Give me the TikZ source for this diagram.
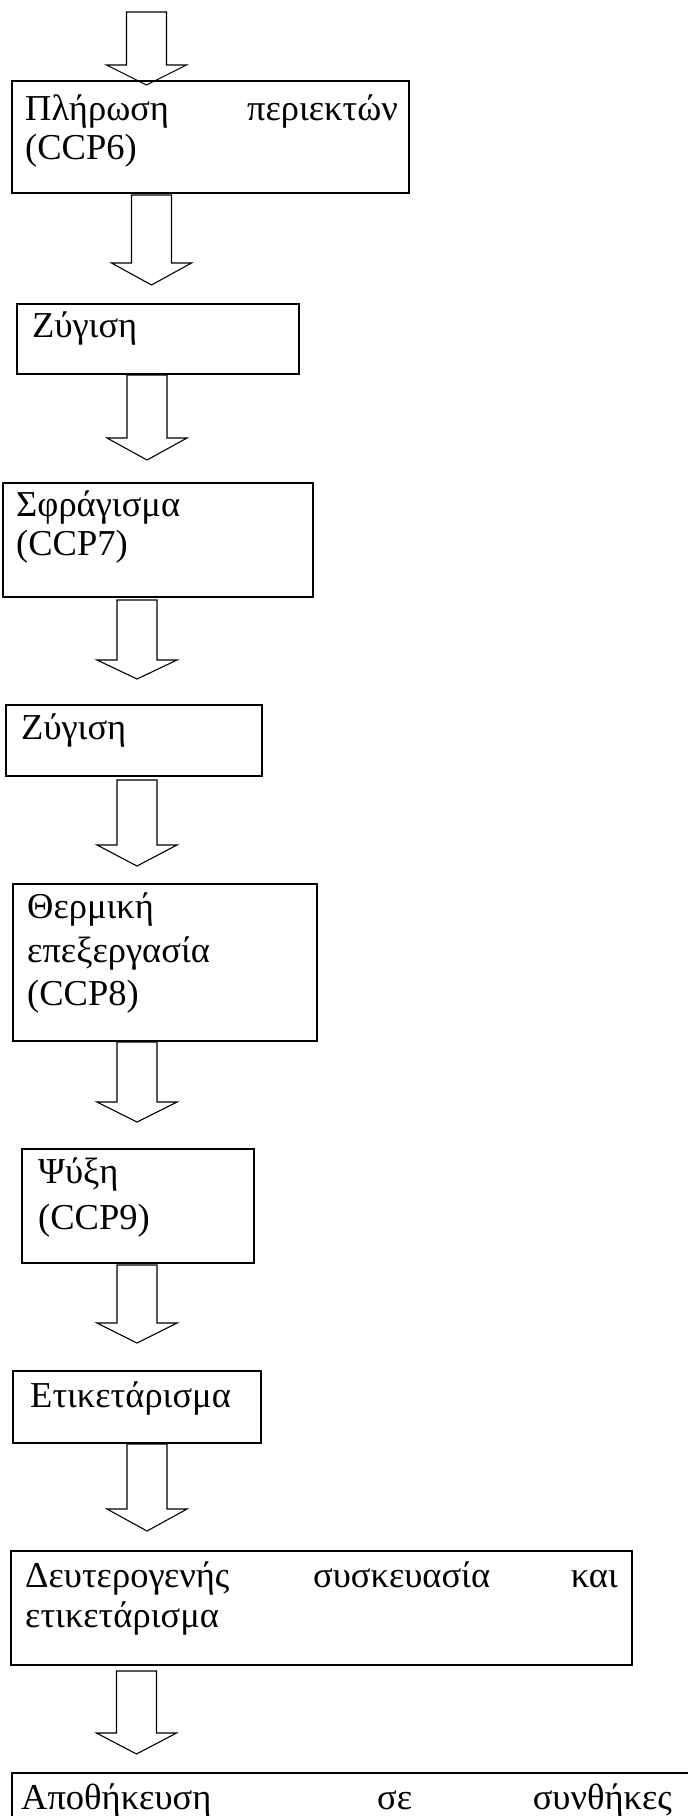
\documentclass[tikz,border=0pt]{standalone}
\usepackage{fontspec}
\setmainfont{Liberation Serif}
\begin{document}
\begin{tikzpicture}[x=1pt,y=-1pt,
  stepbox/.style={draw=black,line width=1.6pt},
  barrowshape/.style={draw=black,line width=1.1pt,fill=white,line join=miter},
  lbl/.style={inner sep=0pt,font=\fontsize{36.5}{40}\selectfont}]
\useasboundingbox (0,0) rectangle (688,1816);
\clip (0,0) rectangle (688,1816);
% block arrow: #1 centre x, #2 top, #3 shaft bottom, #4 tip y
\newcommand\blockarrow[4]{%
  \draw[barrowshape] (#1-20,#2) -- (#1-20,#3) -- (#1-40,#3) -- (#1,#4)
     -- (#1+40,#3) -- (#1+20,#3) -- (#1+20,#2) -- cycle;}
% arrows
\blockarrow{146.5}{12}{65}{85}
\blockarrow{151.5}{195}{263}{285}
\blockarrow{147}{375}{438}{460}
\blockarrow{137}{600}{660}{679}
\blockarrow{137}{780}{845}{866}
\blockarrow{137}{1042}{1102}{1122}
\blockarrow{137}{1265}{1323}{1343}
\blockarrow{147}{1444}{1509}{1531}
\blockarrow{136.5}{1671}{1733}{1754}
% boxes
\draw[stepbox] (12,81) rectangle (409,193);
\draw[stepbox] (17,304) rectangle (299,374);
\draw[stepbox] (3,483) rectangle (313,597);
\draw[stepbox] (6,705) rectangle (262,776);
\draw[stepbox] (13,884) rectangle (317,1041);
\draw[stepbox] (22,1149) rectangle (254,1263);
\draw[stepbox] (13,1371) rectangle (261,1443);
\draw[stepbox] (11,1551) rectangle (632,1665);
\draw[stepbox] (12,1773) rectangle (720,1900);
% texts
\node[lbl,anchor=base west] (t1a) at (25,120) {Πλήρωση};
\node[lbl,anchor=base east] (t1b) at (398,120) {περιεκτών};
\node[lbl,anchor=base west] (t1c) at (25,159) {(CCP6)};
\node[lbl,anchor=base west] (t2) at (32,337) {Ζύγιση};
\node[lbl,anchor=base west] (t3a) at (16,516) {Σφράγισμα};
\node[lbl,anchor=base west] (t3b) at (16,555) {(CCP7)};
\node[lbl,anchor=base west] (t4) at (21,739) {Ζύγιση};
\node[lbl,anchor=base west] (t5a) at (27,918) {Θερμική};
\node[lbl,anchor=base west] (t5b) at (27,962) {επεξεργασία};
\node[lbl,anchor=base west] (t5c) at (27,1005) {(CCP8)};
\node[lbl,anchor=base west] (t6a) at (38,1183) {Ψύξη};
\node[lbl,anchor=base west] (t6b) at (38,1229) {(CCP9)};
\node[lbl,anchor=base west] (t7) at (30,1407) {Ετικετάρισμα};
\node[lbl,anchor=base west] (t8a) at (25,1587) {Δευτερογενής};
\node[lbl,anchor=base west] (t8b) at (313,1587) {συσκευασία};
\node[lbl,anchor=base east] (t8c) at (618,1587) {και};
\node[lbl,anchor=base west] (t8d) at (25,1627) {ετικετάρισμα};
\node[lbl,anchor=base west] (t9a) at (21,1809) {Αποθήκευση};
\node[lbl,anchor=base west] (t9b) at (377,1809) {σε};
\node[lbl,anchor=base east] (t9c) at (672,1809) {συνθήκες};
\end{tikzpicture}
\end{document}
